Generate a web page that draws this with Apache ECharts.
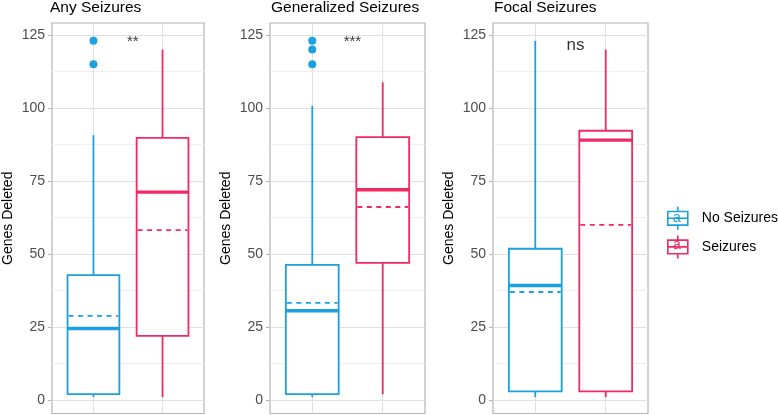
<!DOCTYPE html>
<html>
<head>
<meta charset="utf-8">
<script src="https://cdn.jsdelivr.net/npm/echarts@6/dist/echarts.min.js"></script>
<style>
html, body { margin: 0; padding: 0; background: #fff; }
#chart { width: 778px; height: 415px; }
</style>
</head>
<body>
<div id="chart"></div>
<script>
// panels and groups
let panelTitles = ['Any Seizures', 'Generalized Seizures', 'Focal Seizures'];
let groupNames = ['No Seizures', 'Seizures'];
// [lower whisker, Q1, median, Q3, upper whisker] per panel
let noSeizuresBox = [
  [1, 2, 24.5, 42.8, 90.7],
  [1, 2, 30.6, 46.3, 100.7],
  [1, 3, 39.2, 51.8, 123]
];
let seizuresBox = [
  [1, 22, 71.2, 89.8, 120],
  [2, 47, 72, 90, 108.8],
  [1, 3, 89, 92.2, 120]
];
let noSeizuresMean = [28.8, 33.3, 37];
let seizuresMean = [58.2, 66.1, 60];
let noSeizuresOutliers = [[123, 115], [123, 120, 115], []];
let seizuresOutliers = [[], [], []];
let sigLabels = ['**', '***', 'ns'];
let sigValue = [122.5, 122.5, 121.5];
let yTicks = [0, 25, 50, 75, 100, 125];
let yMinorTicks = [12.5, 37.5, 62.5, 87.5, 112.5];

let colors = ['#1BA1E2', '#F02A62'];
let gridLeft = [49, 270, 493];
let font = '"Liberation Sans", Arial, Helvetica, sans-serif';
let boxHalf = 0.375;

//draw one ggplot style box
function renderBox(params, api) {
  let x = api.value(0);
  let color = api.visual('color');
  let lo = api.coord([x, api.value(1)]);
  let q1 = api.coord([x, api.value(2)]);
  let med = api.coord([x, api.value(3)]);
  let q3 = api.coord([x, api.value(4)]);
  let hi = api.coord([x, api.value(5)]);
  let mean = api.coord([x, api.value(6)]);
  let left = api.coord([x - boxHalf, 0])[0];
  let right = api.coord([x + boxHalf, 0])[0];
  let lw = 1.8;
  return {
    type: 'group',
    children: [
      { type: 'line', shape: { x1: lo[0], y1: lo[1], x2: q1[0], y2: q1[1] }, style: { stroke: color, lineWidth: lw } },
      { type: 'line', shape: { x1: q3[0], y1: q3[1], x2: hi[0], y2: hi[1] }, style: { stroke: color, lineWidth: lw } },
      { type: 'rect', shape: { x: left, y: q3[1], width: right - left, height: q1[1] - q3[1] }, style: { fill: '#fff', stroke: color, lineWidth: lw } },
      { type: 'line', shape: { x1: left, y1: med[1], x2: right, y2: med[1] }, style: { stroke: color, lineWidth: 3.4 } },
      { type: 'line', shape: { x1: left + 1, y1: mean[1], x2: right - 1, y2: mean[1] }, style: { stroke: color, lineWidth: lw, lineDash: [5, 4.5] } }
    ]
  };
}

let myChart = echarts.init(document.getElementById('chart'));

let grids = [], xAxes = [], yAxes = [], titles = [], series = [];
panelTitles.forEach(function (t, i) {
  grids.push({ left: gridLeft[i], top: 23, width: 155, height: 390.5, show: true, borderColor: '#B3B3B3', borderWidth: 1.2, backgroundColor: '#fff' });
  titles.push({ text: t, left: gridLeft[i] + 1, top: 0, padding: 0, textStyle: { fontSize: 15.5, fontWeight: 'normal', color: '#000', fontFamily: font } });
  xAxes.push({
    gridIndex: i, type: 'value', min: 0.4, max: 2.6,
    axisLine: { show: false },
    axisTick: { show: false, customValues: [1, 2] },
    axisLabel: { show: false, customValues: [1, 2] },
    splitLine: { show: true, lineStyle: { color: '#E0E0E0', width: 1 } }
  });
  yAxes.push({
    gridIndex: i, type: 'value', min: -4.6, max: 129.1,
    name: 'Genes Deleted', nameLocation: 'middle', nameRotate: 90, nameGap: 37,
    nameTextStyle: { fontSize: 14, color: '#000', fontFamily: font },
    axisLine: { show: false },
    axisTick: { show: true, length: 4, customValues: yTicks, lineStyle: { color: '#B3B3B3' } },
    axisLabel: { customValues: yTicks, margin: 7, fontSize: 14, color: '#4D4D4D', fontFamily: font },
    splitLine: { show: true, lineStyle: { color: '#E0E0E0', width: 1 } }
  });
  yAxes.push({
    gridIndex: i, type: 'value', min: -4.6, max: 129.1, position: 'left',
    axisLine: { show: false },
    axisTick: { show: false, customValues: yMinorTicks },
    axisLabel: { show: false, customValues: yMinorTicks },
    splitLine: { show: true, lineStyle: { color: '#EFEFEF', width: 1 } }
  });

  let boxes = [noSeizuresBox[i].concat([noSeizuresMean[i]]), seizuresBox[i].concat([seizuresMean[i]])];
  let outliers = [noSeizuresOutliers[i], seizuresOutliers[i]];
  groupNames.forEach(function (g, k) {
    series.push({
      name: g, type: 'custom', xAxisIndex: i, yAxisIndex: i * 2,
      itemStyle: { color: colors[k] },
      encode: { x: 0, y: [1, 2, 3, 4, 5, 6] },
      data: [[k + 1].concat(boxes[k])],
      renderItem: renderBox,
      z: 3
    });
    series.push({
      name: g, type: 'scatter', xAxisIndex: i, yAxisIndex: i * 2,
      symbolSize: 8, itemStyle: { color: colors[k], opacity: 1 },
      data: outliers[k].map(function (v) { return [k + 1, v]; }),
      z: 4
    });
  });
  series.push({
    name: 'sig', type: 'scatter', xAxisIndex: i, yAxisIndex: i * 2,
    symbolSize: 0, silent: true,
    data: [[1.57, sigValue[i]]],
    label: {
      show: true, position: 'inside', formatter: sigLabels[i],
      fontSize: sigLabels[i] === 'ns' ? 17 : 15, color: '#000', fontFamily: font
    },
    z: 5
  });
});

let keyIcon = 'path://M10 0L10 4.7M0 4.7L20 4.7L20 18.3L0 18.3ZM0 11.5L20 11.5M10 18.3L10 23';

myChart.setOption({
  animation: false,
  textStyle: { fontFamily: font },
  title: titles,
  grid: grids,
  xAxis: xAxes,
  yAxis: yAxes,
  legend: {
    orient: 'vertical', left: 667, top: 206, padding: 0,
    itemWidth: 20, itemHeight: 23, itemGap: 4,
    textStyle: { fontSize: 14, color: '#000', fontFamily: font, padding: [0, 0, 0, 9] },
    data: groupNames.map(function (g, k) {
      return { name: g, icon: keyIcon, itemStyle: { color: '#fff', borderColor: colors[k], borderWidth: 1.6 } };
    })
  },
  graphic: groupNames.map(function (g, k) {
    return {
      type: 'text', x: 677, y: 218 + k * 27, z: 100, silent: true,
      style: { text: 'a', fill: colors[k], fontSize: 14, fontFamily: font, align: 'center', verticalAlign: 'middle' }
    };
  }),
  series: series
});
</script>
</body>
</html>
